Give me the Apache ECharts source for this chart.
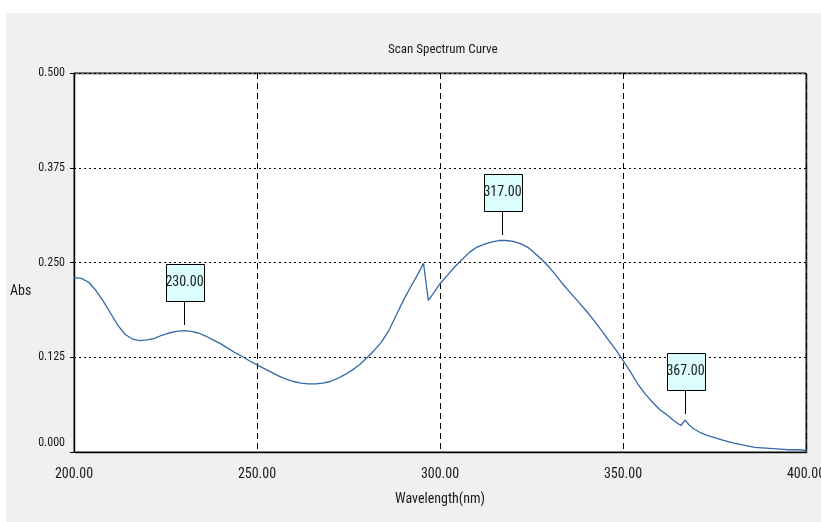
<!DOCTYPE html>
<html>
<head>
<meta charset="utf-8">
<script src="https://cdn.jsdelivr.net/npm/echarts@6/dist/echarts.min.js"></script>
<style>
  html, body { margin: 0; padding: 0; background: #fff; }
  #chart { width: 821px; height: 522px; }
</style>
</head>
<body>
<div id="chart"></div>
<script>
// Absorbance scan, wavelength in nm
const wavelengths = [
  200, 202, 204, 206, 208, 210, 212, 214, 216, 218,
  220, 222, 224, 226, 228, 230, 232, 234, 236, 238,
  240, 242, 244, 246, 248, 250, 252, 254, 256, 258,
  260, 262, 264, 266, 268, 270, 272, 274, 276, 278,
  280, 282, 284, 286, 288, 290, 292, 294, 295.5, 296.8,
  298, 300, 302, 304, 306, 308, 310, 312, 314, 316,
  317, 318, 320, 322, 324, 326, 328, 330, 332, 334,
  336, 338, 340, 342, 344, 346, 348, 350, 352, 354,
  356, 358, 360, 362, 364, 365.8, 367, 368, 369.5, 371,
  373, 375, 377, 380, 383, 386, 389, 392, 395, 398, 400
];
const absorbance = [
  0.230, 0.229, 0.224, 0.213, 0.199, 0.183, 0.167, 0.155, 0.149, 0.147,
  0.148, 0.150, 0.154, 0.157, 0.159, 0.160, 0.159, 0.157, 0.153, 0.148,
  0.143, 0.137, 0.131, 0.126, 0.120, 0.115, 0.110, 0.105, 0.100, 0.096,
  0.093, 0.091, 0.090, 0.090, 0.091, 0.093, 0.097, 0.102, 0.108, 0.115,
  0.124, 0.134, 0.145, 0.160, 0.180, 0.200, 0.218, 0.235, 0.249, 0.200,
  0.208, 0.222, 0.233, 0.244, 0.254, 0.263, 0.270, 0.274, 0.277, 0.279,
  0.279, 0.279, 0.278, 0.275, 0.270, 0.262, 0.253, 0.243, 0.231, 0.219,
  0.208, 0.197, 0.186, 0.174, 0.161, 0.148, 0.135, 0.121, 0.106, 0.090,
  0.077, 0.066, 0.056, 0.049, 0.041, 0.035, 0.042, 0.036, 0.030, 0.026,
  0.022, 0.019, 0.016, 0.012, 0.009, 0.006, 0.005, 0.004, 0.003, 0.003, 0.002
];
// Marked peaks (wavelength, absorbance)
const peakWavelengths = [230, 317, 367];
const peakAbsorbance = [0.160, 0.279, 0.042];

const NARROW = "'Roboto Condensed', 'DejaVu Sans Condensed', sans-serif";
const TEXT = '#1a1a1a';

const curve = wavelengths.map((w, i) => [w, absorbance[i]]);
const peaks = peakWavelengths.map((w, i) => [w, peakAbsorbance[i]]);

const chart = echarts.init(document.getElementById('chart'));
chart.setOption({
  animation: false,
  backgroundColor: '#f0f0f0',
  graphic: [
    { type: 'rect', shape: { x: 0, y: 0, width: 821, height: 13 }, style: { fill: '#fff' }, silent: true },
    { type: 'rect', shape: { x: 0, y: 0, width: 6, height: 522 }, style: { fill: '#fff' }, silent: true },
    // y-axis caption, set lower than the axis midpoint
    {
      type: 'text', left: 10, top: 284, silent: true,
      style: { text: 'Abs', fontFamily: NARROW, fontSize: 14, fill: TEXT }
    }
  ],
  title: {
    text: 'Scan Spectrum Curve',
    left: 383,
    top: 38,
    textStyle: { fontFamily: NARROW, fontSize: 13, fontWeight: 'normal', color: TEXT }
  },
  grid: {
    left: 74, right: 15, top: 73, bottom: 70,
    outerBoundsMode: 'none',
    containLabel: false,
    show: true,
    backgroundColor: '#fff',
    borderColor: '#000',
    borderWidth: 1,
    shadowColor: 'rgba(0,0,0,0.45)',
    shadowOffsetX: 1,
    shadowOffsetY: 1,
    shadowBlur: 0
  },
  xAxis: {
    type: 'value',
    min: 200, max: 400, interval: 50,
    name: 'Wavelength(nm)',
    nameLocation: 'middle',
    nameGap: 40,
    nameTextStyle: { fontFamily: NARROW, fontSize: 14, color: TEXT },
    axisLine: { show: true, lineStyle: { color: '#000', width: 1 } },
    axisTick: { show: false },
    axisLabel: {
      margin: 15,
      fontFamily: NARROW, fontSize: 14, color: TEXT,
      formatter: v => v.toFixed(2)
    },
    splitLine: { show: true, lineStyle: { color: '#000', width: 1, type: [6, 4] } }
  },
  yAxis: {
    type: 'value',
    min: 0, max: 0.5, interval: 0.125,
    axisLine: { show: true, lineStyle: { color: '#000', width: 1 } },
    axisTick: { show: true, length: 4, lineStyle: { color: '#000' } },
    axisLabel: {
      margin: 9,
      fontFamily: NARROW, fontSize: 12, color: TEXT,
      formatter: v => (v === 0 ? '{z|0.000}' : v.toFixed(3)),
      rich: { z: { fontFamily: NARROW, fontSize: 12, color: TEXT, padding: [0, 0, 18, 0] } }
    },
    splitLine: { show: true, lineStyle: { color: '#000', width: 1, type: [2, 3] } }
  },
  series: [
    {
      type: 'line',
      data: curve,
      showSymbol: false,
      smooth: false,
      lineStyle: { color: '#3568a6', width: 1.3 },
      clip: true,
      z: 3
    },
    {
      type: 'custom',
      data: peaks,
      z: 5,
      renderItem: (params, api) => {
        const p = api.coord([api.value(0), api.value(1)]);
        const cx = Math.round(p[0]) + 0.5;
        const cy = Math.round(p[1]);
        const boxW = 38, boxH = 37, gap = 6, stem = 24;
        const boxBottom = cy - gap - stem;
        return {
          type: 'group',
          children: [
            {
              type: 'line',
              shape: { x1: cx, y1: cy - gap, x2: cx, y2: boxBottom },
              style: { stroke: '#000', lineWidth: 1 }
            },
            {
              type: 'rect',
              shape: { x: Math.round(cx - boxW / 2) + 0.5, y: boxBottom - boxH + 0.5, width: boxW, height: boxH },
              style: { fill: '#dcfdfd', stroke: '#000', lineWidth: 1 }
            },
            {
              type: 'text',
              style: {
                text: api.value(0).toFixed(2),
                x: cx, y: boxBottom - boxH / 2,
                align: 'center', verticalAlign: 'middle',
                fontFamily: NARROW, fontSize: 14, fill: TEXT
              }
            }
          ]
        };
      }
    }
  ]
});
</script>
</body>
</html>
